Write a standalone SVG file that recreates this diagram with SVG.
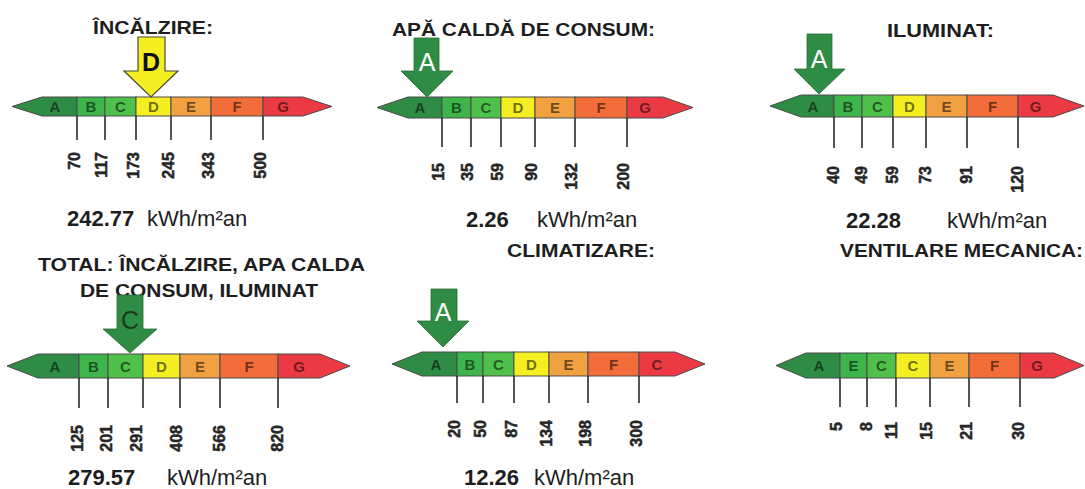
<svg xmlns="http://www.w3.org/2000/svg" width="1085" height="489" viewBox="0 0 1085 489">
<style>
.bg{fill:#ffffff}
.title{font-family:"Liberation Sans",Arial,sans-serif;font-weight:bold;font-size:19px;fill:#1e1e1e}
.val{font-family:"Liberation Sans",Arial,sans-serif;font-weight:bold;font-size:22px;fill:#1e1e1e}
.unit{font-family:"Liberation Sans",Arial,sans-serif;font-size:22px;fill:#1e1e1e}
.tick{font-family:"Liberation Sans",Arial,sans-serif;font-weight:bold;font-size:16px;fill:#262626;stroke:#262626;stroke-width:0.5;text-anchor:end}
.seg{stroke:#4a4a4a;stroke-width:1}
.sa{fill:#2f8c45}.sb{fill:#3db54b}.sc{fill:#4fc14a}.sd{fill:#f4ee22}.se{fill:#f1a042}.sf{fill:#f26d3a}.sg{fill:#ec3a44}
.lt{font-family:"Liberation Sans",Arial,sans-serif;font-weight:bold;font-size:15px;fill:#000;fill-opacity:0.55;text-anchor:middle}
.tk{stroke:#2a2a2a;stroke-width:1.6}
.arrG{fill:#2f8c45;stroke:#2a6a35;stroke-width:0.8}
.arrY{fill:#f4ee22;stroke:#4a4a3a;stroke-width:1.2}
.albW{font-family:"Liberation Sans",Arial,sans-serif;font-size:25px;fill:#ffffff;text-anchor:middle}
.albK{font-family:"Liberation Sans",Arial,sans-serif;font-weight:bold;font-size:25px;fill:#111;text-anchor:middle}
.albC{font-family:"Liberation Sans",Arial,sans-serif;font-size:25px;fill:#1a3a1e;text-anchor:middle}
</style>
<rect class="bg" x="0" y="0" width="1085" height="489"/>

<!-- Scale 1: Incalzire -->
<g id="incalzire">
<text class="title" x="93" y="34" textLength="120" lengthAdjust="spacingAndGlyphs">ÎNCĂLZIRE:</text>
<g class="seg">
<path class="sa" d="M12,106.5 L42,97 L77,97 L77,116 L42,116 Z"/>
<rect class="sb" x="77" y="97" width="28" height="19"/>
<rect class="sc" x="105" y="97" width="31" height="19"/>
<rect class="sd" x="136" y="97" width="35" height="19"/>
<rect class="se" x="171" y="97" width="40" height="19"/>
<rect class="sf" x="211" y="97" width="52" height="19"/>
<path class="sg" d="M263,97 L303,97 L332,106.5 L303,116 L263,116 Z"/>
</g>
<g>
<text class="lt" x="55" y="112">A</text><text class="lt" x="91" y="112">B</text><text class="lt" x="120.5" y="112">C</text><text class="lt" x="153.5" y="112">D</text><text class="lt" x="191" y="112">E</text><text class="lt" x="237" y="112">F</text><text class="lt" x="283" y="112">G</text>
</g>
<g class="tk"><line x1="77" y1="116" x2="77" y2="140"/><line x1="105" y1="116" x2="105" y2="140"/><line x1="136" y1="116" x2="136" y2="140"/><line x1="171" y1="116" x2="171" y2="140"/><line x1="211" y1="116" x2="211" y2="140"/><line x1="263" y1="116" x2="263" y2="140"/></g>
<g>
<text class="tick" transform="translate(80,152) rotate(-90)">70</text>
<text class="tick" transform="translate(107,152) rotate(-90)">117</text>
<text class="tick" transform="translate(139,152) rotate(-90)">173</text>
<text class="tick" transform="translate(174,152) rotate(-90)">245</text>
<text class="tick" transform="translate(214,152) rotate(-90)">343</text>
<text class="tick" transform="translate(266,152) rotate(-90)">500</text>
</g>
<polygon class="arrY" points="138,37 165,37 165,71 178,71 151,97 124,71 138,71"/>
<text class="albK" x="151" y="71">D</text>
<text class="val" x="67" y="226">242.77</text><text class="unit" x="147" y="226">kWh/m²an</text>
</g>

<!-- Scale 2: Apa calda -->
<g id="apa-calda">
<text class="title" x="392" y="36" textLength="263" lengthAdjust="spacingAndGlyphs">APĂ CALDĂ DE CONSUM:</text>
<g class="seg">
<path class="sa" d="M377,107.5 L408,97 L442,97 L442,118 L408,118 Z"/>
<rect class="sb" x="442" y="97" width="29" height="21"/>
<rect class="sc" x="471" y="97" width="30" height="21"/>
<rect class="sd" x="501" y="97" width="34" height="21"/>
<rect class="se" x="535" y="97" width="40" height="21"/>
<rect class="sf" x="575" y="97" width="52" height="21"/>
<path class="sg" d="M627,97 L663,97 L693,107.5 L663,118 L627,118 Z"/>
</g>
<g>
<text class="lt" x="420" y="113">A</text><text class="lt" x="456.5" y="113">B</text><text class="lt" x="486" y="113">C</text><text class="lt" x="518" y="113">D</text><text class="lt" x="555" y="113">E</text><text class="lt" x="601" y="113">F</text><text class="lt" x="645" y="113">G</text>
</g>
<g class="tk"><line x1="442" y1="118" x2="442" y2="147"/><line x1="471" y1="118" x2="471" y2="147"/><line x1="501" y1="118" x2="501" y2="147"/><line x1="535" y1="118" x2="535" y2="147"/><line x1="575" y1="118" x2="575" y2="147"/><line x1="627" y1="118" x2="627" y2="147"/></g>
<g>
<text class="tick" transform="translate(444,163) rotate(-90)">15</text>
<text class="tick" transform="translate(473,163) rotate(-90)">35</text>
<text class="tick" transform="translate(503,163) rotate(-90)">59</text>
<text class="tick" transform="translate(537,163) rotate(-90)">90</text>
<text class="tick" transform="translate(577,163) rotate(-90)">132</text>
<text class="tick" transform="translate(629,163) rotate(-90)">200</text>
</g>
<polygon class="arrG" points="414,38 439,38 439,71 453,71 427,97 401,71 414,71"/>
<text class="albW" x="427" y="71">A</text>
<text class="val" x="466" y="227">2.26</text><text class="unit" x="537" y="227">kWh/m²an</text>
</g>

<!-- Scale 3: Iluminat -->
<g id="iluminat">
<text class="title" x="887" y="37" textLength="107" lengthAdjust="spacingAndGlyphs">ILUMINAT:</text>
<g class="seg">
<path class="sa" d="M770,106 L801,95 L834,95 L834,117 L801,117 Z"/>
<rect class="sb" x="834" y="95" width="28" height="22"/>
<rect class="sc" x="862" y="95" width="31" height="22"/>
<rect class="sd" x="893" y="95" width="33" height="22"/>
<rect class="se" x="926" y="95" width="41" height="22"/>
<rect class="sf" x="967" y="95" width="51" height="22"/>
<path class="sg" d="M1018,95 L1053,95 L1084,106 L1053,117 L1018,117 Z"/>
</g>
<g>
<text class="lt" x="813" y="111.5">A</text><text class="lt" x="848" y="111.5">B</text><text class="lt" x="877.5" y="111.5">C</text><text class="lt" x="909.5" y="111.5">D</text><text class="lt" x="946.5" y="111.5">E</text><text class="lt" x="992.5" y="111.5">F</text><text class="lt" x="1035.5" y="111.5">G</text>
</g>
<g class="tk"><line x1="834" y1="117" x2="834" y2="148"/><line x1="862" y1="117" x2="862" y2="148"/><line x1="893" y1="117" x2="893" y2="148"/><line x1="926" y1="117" x2="926" y2="148"/><line x1="967" y1="117" x2="967" y2="148"/><line x1="1018" y1="117" x2="1018" y2="148"/></g>
<g>
<text class="tick" transform="translate(839,166) rotate(-90)">40</text>
<text class="tick" transform="translate(867,166) rotate(-90)">49</text>
<text class="tick" transform="translate(898,166) rotate(-90)">59</text>
<text class="tick" transform="translate(931,166) rotate(-90)">73</text>
<text class="tick" transform="translate(972,166) rotate(-90)">91</text>
<text class="tick" transform="translate(1023,166) rotate(-90)">120</text>
</g>
<polygon class="arrG" points="807,34 832,34 832,69 845,69 819,94 794,69 807,69"/>
<text class="albW" x="819" y="68">A</text>
<text class="val" x="846" y="228">22.28</text><text class="unit" x="947" y="228">kWh/m²an</text>
</g>

<!-- Scale 4: Total -->
<g id="total">
<text class="title" x="38" y="271" textLength="327" lengthAdjust="spacingAndGlyphs">TOTAL: ÎNCĂLZIRE, APA CALDA</text>
<text class="title" x="80" y="297" textLength="238" lengthAdjust="spacingAndGlyphs">DE CONSUM, ILUMINAT</text>
<g class="seg">
<path class="sa" d="M7,366 L38,354 L79,354 L79,378 L38,378 Z"/>
<rect class="sb" x="79" y="354" width="29" height="24"/>
<rect class="sc" x="108" y="354" width="35" height="24"/>
<rect class="sd" x="143" y="354" width="37" height="24"/>
<rect class="se" x="180" y="354" width="40" height="24"/>
<rect class="sf" x="220" y="354" width="58" height="24"/>
<path class="sg" d="M278,354 L320,354 L350,366 L320,378 L278,378 Z"/>
</g>
<g>
<text class="lt" x="55" y="371.5">A</text><text class="lt" x="93.5" y="371.5">B</text><text class="lt" x="125.5" y="371.5">C</text><text class="lt" x="161.5" y="371.5">D</text><text class="lt" x="200" y="371.5">E</text><text class="lt" x="249" y="371.5">F</text><text class="lt" x="299" y="371.5">G</text>
</g>
<g class="tk"><line x1="79" y1="378" x2="79" y2="408"/><line x1="108" y1="378" x2="108" y2="408"/><line x1="143" y1="378" x2="143" y2="408"/><line x1="180" y1="378" x2="180" y2="408"/><line x1="220" y1="378" x2="220" y2="408"/><line x1="278" y1="378" x2="278" y2="408"/></g>
<g>
<text class="tick" transform="translate(83,425) rotate(-90)">125</text>
<text class="tick" transform="translate(112,425) rotate(-90)">201</text>
<text class="tick" transform="translate(142,425) rotate(-90)">291</text>
<text class="tick" transform="translate(182,425) rotate(-90)">408</text>
<text class="tick" transform="translate(225,425) rotate(-90)">566</text>
<text class="tick" transform="translate(283,425) rotate(-90)">820</text>
</g>
<polygon class="arrG" points="117,295 143,295 143,329 157,329 130,353 103,329 117,329"/>
<text class="albC" x="130" y="329">C</text>
<text class="val" x="68" y="485">279.57</text><text class="unit" x="167" y="485">kWh/m²an</text>
</g>

<!-- Scale 5: Climatizare -->
<g id="climatizare">
<text class="title" x="507" y="257" textLength="148" lengthAdjust="spacingAndGlyphs">CLIMATIZARE:</text>
<g class="seg">
<path class="sa" d="M392,364 L422,352 L457,352 L457,376 L422,376 Z"/>
<rect class="sb" x="457" y="352" width="26" height="24"/>
<rect class="sc" x="483" y="352" width="31" height="24"/>
<rect class="sd" x="514" y="352" width="35" height="24"/>
<rect class="se" x="549" y="352" width="39" height="24"/>
<rect class="sf" x="588" y="352" width="51" height="24"/>
<path class="sg" d="M639,352 L675,352 L705,364 L675,376 L639,376 Z"/>
</g>
<g>
<text class="lt" x="436" y="369.5">A</text><text class="lt" x="470" y="369.5">B</text><text class="lt" x="498.5" y="369.5">C</text><text class="lt" x="531.5" y="369.5">D</text><text class="lt" x="568.5" y="369.5">E</text><text class="lt" x="613.5" y="369.5">F</text><text class="lt" x="657" y="369.5">C</text>
</g>
<g class="tk"><line x1="457" y1="376" x2="457" y2="403"/><line x1="483" y1="376" x2="483" y2="403"/><line x1="514" y1="376" x2="514" y2="403"/><line x1="549" y1="376" x2="549" y2="403"/><line x1="588" y1="376" x2="588" y2="403"/><line x1="639" y1="376" x2="639" y2="403"/></g>
<g>
<text class="tick" transform="translate(460,420) rotate(-90)">20</text>
<text class="tick" transform="translate(486,420) rotate(-90)">50</text>
<text class="tick" transform="translate(517,420) rotate(-90)">87</text>
<text class="tick" transform="translate(552,420) rotate(-90)">134</text>
<text class="tick" transform="translate(591,420) rotate(-90)">198</text>
<text class="tick" transform="translate(642,420) rotate(-90)">300</text>
</g>
<polygon class="arrG" points="431,289 457,289 457,321 469,321 443,347 417,321 431,321"/>
<text class="albW" x="443" y="321">A</text>
<text class="val" x="464" y="485">12.26</text><text class="unit" x="534" y="485">kWh/m²an</text>
</g>

<!-- Scale 6: Ventilare mecanica -->
<g id="ventilare">
<text class="title" x="840" y="257" textLength="243" lengthAdjust="spacingAndGlyphs">VENTILARE MECANICA:</text>
<g class="seg">
<path class="sa" d="M776,365.5 L806,353 L840,353 L840,378 L806,378 Z"/>
<rect class="sb" x="840" y="353" width="27" height="25"/>
<rect class="sc" x="867" y="353" width="29" height="25"/>
<rect class="sd" x="896" y="353" width="34" height="25"/>
<rect class="se" x="930" y="353" width="39" height="25"/>
<rect class="sf" x="969" y="353" width="51" height="25"/>
<path class="sg" d="M1020,353 L1054,353 L1084,365.5 L1054,378 L1020,378 Z"/>
</g>
<g>
<text class="lt" x="819" y="371">A</text><text class="lt" x="853.5" y="371">E</text><text class="lt" x="881.5" y="371">C</text><text class="lt" x="913" y="371">C</text><text class="lt" x="949.5" y="371">E</text><text class="lt" x="994.5" y="371">F</text><text class="lt" x="1037" y="371">G</text>
</g>
<g class="tk"><line x1="840" y1="378" x2="840" y2="407"/><line x1="867" y1="378" x2="867" y2="407"/><line x1="896" y1="378" x2="896" y2="407"/><line x1="930" y1="378" x2="930" y2="407"/><line x1="969" y1="378" x2="969" y2="407"/><line x1="1020" y1="378" x2="1020" y2="407"/></g>
<g>
<text class="tick" transform="translate(842,422) rotate(-90)">5</text>
<text class="tick" transform="translate(872,422) rotate(-90)">8</text>
<text class="tick" transform="translate(897,422) rotate(-90)">11</text>
<text class="tick" transform="translate(932,422) rotate(-90)">15</text>
<text class="tick" transform="translate(972,422) rotate(-90)">21</text>
<text class="tick" transform="translate(1024,422) rotate(-90)">30</text>
</g>
</g>
</svg>
